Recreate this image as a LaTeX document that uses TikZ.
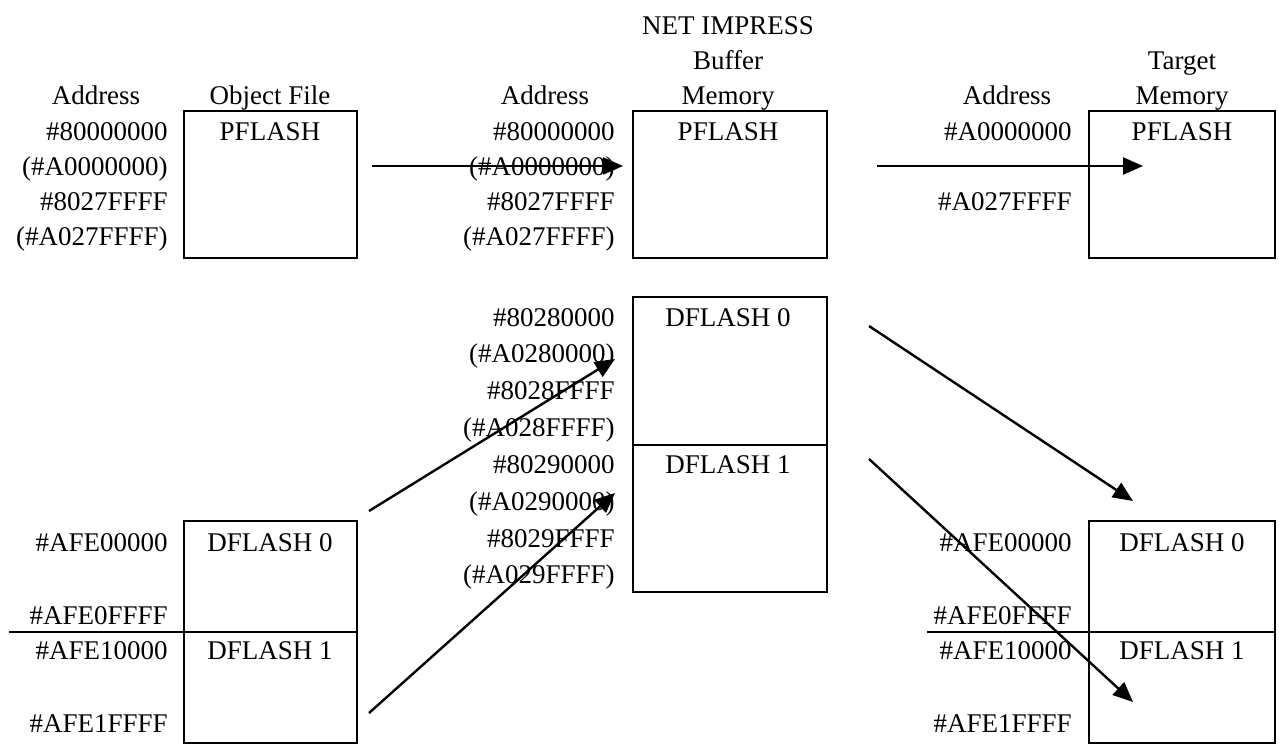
\documentclass[tikz,border=0pt]{standalone}
\usepackage{fontspec}
\setmainfont{Liberation Serif}
\usetikzlibrary{arrows.meta}

\begin{document}
\begin{tikzpicture}[x=0.5pt, y=-0.5pt,
  txt/.style={inner sep=0pt, text height=9pt, text depth=0pt, font=\fontsize{13.5}{16}\selectfont},
  addr/.style={txt, anchor=east},
  mem/.style={draw, line width=1.2pt},
  flow/.style={line width=1.2pt, -{Triangle[length=10pt, width=8.5pt]}}]

\useasboundingbox (0,0) rectangle (1279,744);

% object file
\node[txt] (hdaddr1) at (96,95) {Address};
\node[txt] (hdobj) at (270,95) {Object File};
\draw[mem] (184,111) rectangle (357,258);
\draw[mem] (184,521) rectangle (357,632);
\draw[mem] (184,632) rectangle (357,743);
\coordinate (objsplit) at (184,632);
\coordinate (objleft) at (9,632);
\draw[line width=1.2pt] (objleft) -- (objsplit);
\node[txt] (objp) at (270,131) {PFLASH};
\node[txt] (objd0) at (270,542) {DFLASH 0};
\node[txt] (objd1) at (270,650) {DFLASH 1};
\node[addr] (oa1) at (168,131) {\#80000000};
\node[addr] (oa2) at (168,166) {(\#A0000000)};
\node[addr] (oa3) at (168,201) {\#8027FFFF};
\node[addr] (oa4) at (168,236) {(\#A027FFFF)};
\node[addr] (oa5) at (168,542) {\#AFE00000};
\node[addr] (oa6) at (168,615) {\#AFE0FFFF};
\node[addr] (oa7) at (168,650) {\#AFE10000};
\node[addr] (oa8) at (168,723) {\#AFE1FFFF};

% buffer memory
\node[txt] (hdnet) at (728,25) {NET IMPRESS};
\node[txt] (hdbuf) at (728,60) {Buffer};
\node[txt] (hdmem1) at (728,95) {Memory};
\node[txt] (hdaddr2) at (545,95) {Address};
\draw[mem] (633,111) rectangle (827,258);
\draw[mem] (633,297) rectangle (827,445);
\draw[mem] (633,445) rectangle (827,592);
\node[txt] (bufp) at (728,131) {PFLASH};
\node[txt] (bufd0) at (728,317) {DFLASH 0};
\node[txt] (bufd1) at (728,464) {DFLASH 1};
\node[addr] (ba1) at (615,131) {\#80000000};
\node[addr] (ba2) at (615,166) {(\#A0000000)};
\node[addr] (ba3) at (615,201) {\#8027FFFF};
\node[addr] (ba4) at (615,236) {(\#A027FFFF)};
\node[addr] (ba5) at (615,317) {\#80280000};
\node[addr] (ba6) at (615,353) {(\#A0280000)};
\node[addr] (ba7) at (615,390) {\#8028FFFF};
\node[addr] (ba8) at (615,427) {(\#A028FFFF)};
\node[addr] (ba9) at (615,464) {\#80290000};
\node[addr] (ba10) at (615,501) {(\#A0290000)};
\node[addr] (ba11) at (615,538) {\#8029FFFF};
\node[addr] (ba12) at (615,574) {(\#A029FFFF)};

% target memory
\node[txt] (hdtgt) at (1182,60) {Target};
\node[txt] (hdmem2) at (1182,95) {Memory};
\node[txt] (hdaddr3) at (1007,95) {Address};
\draw[mem] (1089,111) rectangle (1275,258);
\draw[mem] (1089,521) rectangle (1275,632);
\draw[mem] (1089,632) rectangle (1275,743);
\coordinate (tgtsplit) at (1089,632);
\coordinate (tgtleft) at (927,632);
\draw[line width=1.2pt] (tgtleft) -- (tgtsplit);
\node[txt] (tgtp) at (1182,131) {PFLASH};
\node[txt] (tgtd0) at (1182,542) {DFLASH 0};
\node[txt] (tgtd1) at (1182,650) {DFLASH 1};
\node[addr] (ta1) at (1072,131) {\#A0000000};
\node[addr] (ta2) at (1072,201) {\#A027FFFF};
\node[addr] (ta3) at (1072,542) {\#AFE00000};
\node[addr] (ta4) at (1072,615) {\#AFE0FFFF};
\node[addr] (ta5) at (1072,650) {\#AFE10000};
\node[addr] (ta6) at (1072,723) {\#AFE1FFFF};

% arrows
\coordinate (p1s) at (372,166);  \coordinate (p1e) at (623,166);
\coordinate (p2s) at (877,166);  \coordinate (p2e) at (1143,166);
\coordinate (d0s) at (369,511);  \coordinate (d0e) at (615,359);
\coordinate (d1s) at (369,713);  \coordinate (d1e) at (615,493);
\coordinate (t0s) at (869,326);  \coordinate (t0e) at (1133,501);
\coordinate (t1s) at (869,459);  \coordinate (t1e) at (1133,702);
\draw[flow] (p1s) -- (p1e);
\draw[flow] (p2s) -- (p2e);
\draw[flow] (d0s) -- (d0e);
\draw[flow] (d1s) -- (d1e);
\draw[flow] (t0s) -- (t0e);
\draw[flow] (t1s) -- (t1e);

\end{tikzpicture}
\end{document}
